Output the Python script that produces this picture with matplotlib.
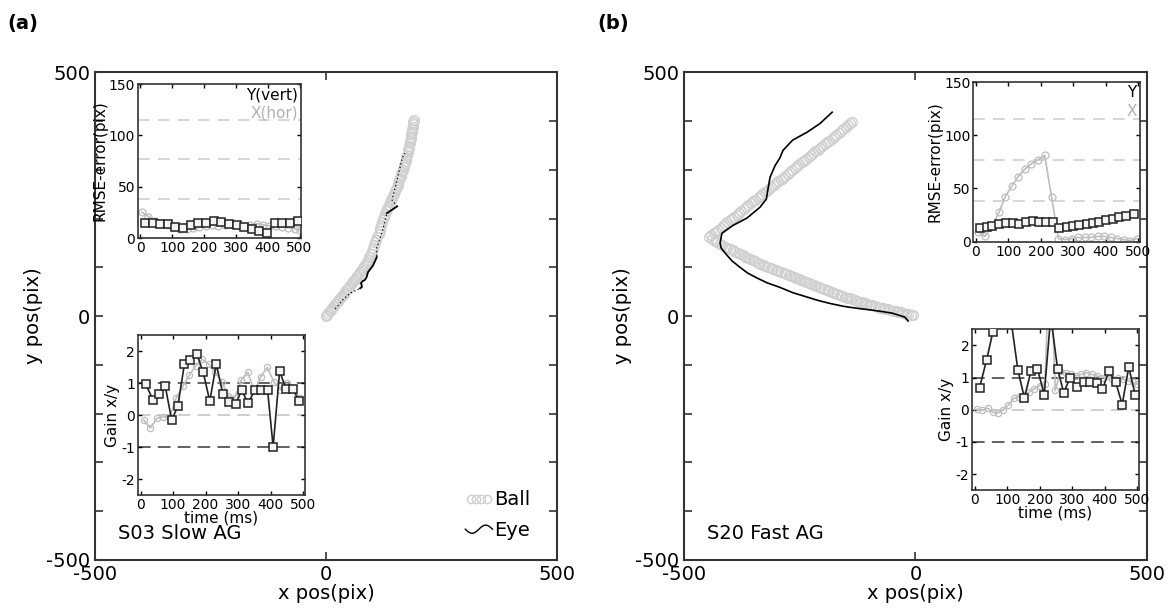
import numpy as np
import matplotlib
matplotlib.use("Agg")
import matplotlib.pyplot as plt
from matplotlib.lines import Line2D
from matplotlib.legend_handler import HandlerLine2D

plt.rcParams['font.family'] = ['DejaVu Sans']
plt.rcParams['axes.unicode_minus'] = False

# ---------------- data: panel (a) S03 Slow AG ----------------
ball_a_x = [0, 2.5, 5, 8, 11, 14, 17, 20, 23, 26, 29, 32, 35, 38, 41, 44, 47, 50, 53, 56,
            59, 62, 65, 68, 71, 74, 77, 80, 83, 86, 89, 91.5, 94, 96.5, 99, 101.5, 104, 106.5,
            109, 111.5, 114, 116, 118, 120, 122, 124, 126, 128.5, 131, 133, 135, 137, 139, 141,
            143, 145, 147, 149, 151, 153, 155, 157, 159, 160.5, 162, 163.5, 165, 166.5, 168,
            169.5, 171, 172.5, 174, 175.5, 177, 178, 179, 180, 181, 182, 183, 184, 185, 186,
            187, 187.5, 188, 189, 190]
ball_a_y = [0, 3, 6, 9.5, 13, 16.5, 20, 24, 28, 31.5, 35, 38.5, 42, 45.5, 49, 52.5, 56, 59.5, 63, 67,
            71, 75, 79, 83, 87, 91, 95, 99, 103, 107, 111, 116, 121, 127, 133, 139, 145, 151,
            157, 163, 169, 175, 181, 187, 193, 198.5, 204, 209.5, 215, 219.5, 224, 228.5, 233, 237.5,
            242, 246.5, 251, 255.5, 260, 264.5, 269, 273.5, 278, 282.5, 287, 291.5, 296, 300.5, 305,
            309.5, 314, 319, 324, 330, 336, 340.5, 345, 349.5, 354, 358.5, 363, 368, 373, 378,
            383, 388, 393, 398, 403]

eye_a_x = [20, 38, 52, 66, 74, 78, 76, 80, 84, 88, 91, 102, 110, 110, 121, 132, 154, 143, 154, 165, 171]
eye_a_y = [15, 35, 47, 53, 57, 60, 68, 72, 74, 80, 90, 104, 121, 141, 170, 211, 225, 238, 279, 324, 334]
eye_a_solid = [(4, 13), (15, 17)]

rmse_a_t = [14, 38, 62, 86, 110, 134, 158, 182, 206, 230, 254, 278, 302, 326, 350, 374, 398, 422, 446, 470, 494]
rmse_a_y = [15, 15, 14, 13.5, 11, 9.5, 13, 15, 15, 16.5, 16, 14, 12.5, 11, 9, 6.5, 5, 15, 14.5, 15, 16.5]
rmse_a_xt = [5, 25, 45, 65, 85, 105, 125, 145, 165, 185, 205, 225, 245, 265, 285, 305, 325,
             345, 365, 385, 405, 425, 445, 465, 485, 500]
rmse_a_x = [25, 21, 17, 15, 13, 11, 9, 9, 10, 11, 12, 13, 12, 13, 14, 13, 12,
            13, 14, 13, 12, 12, 11, 10, 9, 8]

gain_a_t = [16, 38, 56, 76, 96, 115, 135, 153, 173, 193, 213, 233, 253, 273, 293, 311,
            331, 353, 371, 391, 408, 428, 448, 468, 488]
gain_a_y = [0.97, 0.49, 0.65, 0.91, -0.16, 0.30, 1.60, 1.72, 1.92, 1.34, 0.44, 1.60, 0.68,
            0.41, 0.36, 0.78, 0.39, 0.80, 0.80, 0.78, -0.99, 1.38, 0.82, 0.82, 0.46]
gain_a_xt = [10, 30, 50, 70, 90, 110, 130, 150, 170, 190, 210, 230, 250, 270, 290, 310,
             330, 350, 370, 390, 410, 430, 450, 470, 490]
gain_a_x = [-0.15, -0.4, -0.1, -0.05, -0.05, 0.55, 0.9, 1.25, 1.55, 1.75, 1.6, 1.35, 1.05,
            0.6, 0.55, 1.1, 1.35, 0.75, 1.2, 1.5, 1.05, 0.8, 1.0, 0.85, 0.55]

# ---------------- data: panel (b) S20 Fast AG ----------------
# ball moves out to the left, then turns back up-right
ball_b_out_x = [-5, -10, -16, -21, -27, -32, -38, -43, -49, -54, -60, -65, -71, -76, -82, -87,
                -93, -98, -104, -109, -115, -120, -126, -131, -137, -142, -148, -153, -159, -164,
                -170, -175, -181, -186, -192, -197, -203, -208, -214, -219, -225, -230, -236, -241,
                -247, -252, -258, -263, -269, -274, -280, -285, -291, -296, -302, -307, -313, -318,
                -324, -329, -335, -340, -346, -351, -357, -362, -368, -373, -379, -384, -390, -395,
                -401, -406, -412, -417, -423, -428, -434, -440, -446]
ball_b_out_y = [2, 3, 4, 5, 6, 7.5, 9, 10, 11, 12.5, 14, 15, 16, 17.5, 19, 20.5,
                22, 23.5, 25, 26.5, 28, 29.5, 31, 33, 35, 36.5, 38, 40, 42, 44,
                46, 48, 50, 52, 54, 56, 58, 60, 62, 64, 66, 68, 70, 72,
                74, 76, 78, 80, 82, 84, 86, 88, 90, 92, 94, 96, 98, 100.5,
                103, 105, 107, 109.5, 112, 114.5, 117, 119.5, 122, 124.5, 127, 129.5, 132, 134.5,
                137, 139.5, 142, 145, 148, 151, 154, 158, 162]
ball_b_back_x = [-441, -436, -431, -426, -421, -416, -411, -406, -401, -396, -391, -386, -381,
                 -376, -371, -366, -361, -356, -351, -346, -341, -336, -331, -326, -321, -316,
                 -311, -306, -301, -296, -291, -286, -281, -276, -271, -266, -261, -256, -251,
                 -246, -241, -236, -231, -226, -221, -216, -211, -206, -201, -196, -191, -186,
                 -181, -176, -171, -166, -161, -156, -151, -146, -141, -137]
ball_b_back_y = [166, 170, 173, 177, 181, 185, 189, 193, 196, 200, 204, 208, 212,
                 215, 219, 223, 227, 231, 235, 238, 242, 246, 250, 254, 257, 261,
                 265, 269, 273, 277, 280, 284, 288, 292, 296, 299, 303, 307, 311,
                 315, 319, 322, 326, 330, 334, 338, 341, 345, 349, 353, 357, 360,
                 364, 368, 372, 376, 380, 383, 387, 391, 395, 398]

eye_b_x = [-16, -23, -50, -77, -100, -126, -155, -185, -210, -234, -265, -293, -320, -342,
           -362, -379, -396, -411, -420, -422, -418, -394, -364, -336, -322, -319, -314,
           -303, -293, -286, -265, -234, -206, -180]
eye_b_y = [-10, -2, 6, 10, 13, 16, 20, 26, 32, 39, 48, 59, 68, 78,
           88, 100, 113, 129, 140, 150, 170, 186, 201, 223, 240, 258, 285,
           309, 324, 340, 361, 377, 395, 418]

rmse_b_t = [12, 33, 51, 72, 92, 113, 133, 154, 175, 195, 216, 236, 257, 279, 298, 318,
            341, 359, 380, 400, 421, 441, 462, 487]
rmse_b_y = [12.5, 13.5, 15, 16.5, 17.5, 18, 17, 18.5, 19.5, 19, 19, 19, 12.5, 13.5, 14.5,
            15.5, 16.5, 17.5, 19, 20.5, 21.5, 23, 24.5, 26]
rmse_b_xt = [8, 28, 50, 72, 90, 110, 130, 150, 170, 192, 212, 233, 254, 275, 295, 315, 335,
             355, 375, 395, 415, 435, 455, 475, 495]
rmse_b_x = [9, 5, 15, 28, 42, 52, 61, 68, 73, 77, 81, 42, 3, 2, 3, 4, 4, 4, 5, 5, 4, 3, 2, 1, 3]

gain_b_t = [15, 37, 56, 75, 95, 113, 133, 153, 173, 193, 214, 234, 255, 274, 294, 315,
            335, 354, 375, 393, 413, 434, 454, 474, 494]
gain_b_y = [0.68, 1.56, 2.42, 3.5, 4.0, 2.7, 1.23, 0.37, 1.19, 1.28, 0.47, 2.9, 1.28, 0.53,
            1.0, 0.72, 0.86, 0.86, 0.82, 0.63, 1.19, 0.86, 0.16, 1.32, 0.47]
gain_b_xt = [8, 24, 40, 56, 72, 88, 104, 120, 136, 152, 168, 184, 200, 216, 224, 240, 248,
             264, 280, 296, 312, 328, 344, 360, 376, 392, 408, 424, 440, 456, 472, 488, 500]
gain_b_x = [0.02, -0.02, 0.05, -0.08, -0.1, 0.0, 0.15, 0.35, 0.4, 0.45, 0.55, 0.65, 0.75,
            0.8, 2.9, 2.9, 0.6, 1.2, 1.15, 1.1, 1.05, 1.1, 1.15, 1.1, 1.05, 1.0, 1.05, 0.95,
            1.0, 0.95, 0.9, 0.85, 0.8]

rmse_lines = [38.5, 77, 115.5]

BALL_C = '#cfcfcf'
DARK = '#222222'
LIGHT = '#bdbdbd'
SPINE = '#333333'


class WaveHandler(HandlerLine2D):
    def create_artists(self, legend, orig_handle, xdescent, ydescent, width, height, fontsize, trans):
        s = np.linspace(0, 2 * np.pi, 40)
        xs = s / (2 * np.pi) * width - xdescent
        ys = height / 2 - ydescent - 0.3 * height * np.sin(s)
        ln = Line2D(xs, ys, color='black', lw=1.0)
        ln.set_transform(trans)
        return [ln]


def style_main(ax):
    ax.set_xlim(-500, 500)
    ax.set_ylim(-500, 500)
    ax.set_xticks([-500, 0, 500])
    ax.set_xticklabels(['-500', '0', '500'])
    ax.set_yticks(range(-500, 501, 100))
    ax.set_yticklabels(['-500', '', '', '', '', '0', '', '', '', '', '500'])
    ax.tick_params(direction='in', top=True, right=True, length=6, width=1.2,
                   labelsize=14, colors=SPINE, labelcolor='black')
    for s in ax.spines.values():
        s.set_linewidth(1.5)
        s.set_color(SPINE)
    ax.set_xlabel('x pos(pix)', fontsize=14, labelpad=0)
    ax.set_ylabel('y pos(pix)', fontsize=14, labelpad=2)


def style_inset(ax):
    ax.tick_params(direction='in', top=True, right=True, length=3, width=1,
                   labelsize=10, pad=2)
    for s in ax.spines.values():
        s.set_linewidth(1.2)
        s.set_color(SPINE)
    ax.set_xlim(-8, 505)
    ax.set_xticks([0, 100, 200, 300, 400, 500])


def rmse_inset(fig, rect, t, y, xt, x, ylab, xlab):
    ax = fig.add_axes(rect)
    for v in rmse_lines:
        ax.axhline(v, color='#d0d0d0', lw=1.2, ls=(0, (7, 5)), zorder=1)
    ax.plot(xt, x, color=LIGHT, lw=1.2, marker='o', ms=5, mfc='none', mec=LIGHT, mew=0.9, zorder=2)
    ax.plot(t, y, color=DARK, lw=1.2, marker='s', ms=5.5, mfc='#f4f4f4', mec=DARK, mew=1.1, zorder=3)
    ax.set_ylim(0, 150)
    ax.set_yticks([0, 50, 100, 150])
    style_inset(ax)
    ax.set_ylabel('RMSE-error(pix)', fontsize=11, labelpad=1)
    ax.text(0.98, 0.98, ylab, transform=ax.transAxes, ha='right', va='top', fontsize=11, color='black')
    ax.text(0.98, 0.86, xlab, transform=ax.transAxes, ha='right', va='top', fontsize=11, color='#b0b0b0')
    return ax


def gain_inset(fig, rect, t, y, xt, x):
    ax = fig.add_axes(rect)
    ax.axhline(1, color='#555555', lw=1.3, ls=(0, (7, 4)), zorder=1)
    ax.axhline(-1, color='#555555', lw=1.3, ls=(0, (7, 4)), zorder=1)
    ax.axhline(0, color='#cccccc', lw=1.3, ls=(0, (7, 4)), zorder=1)
    ax.plot(xt, x, color=LIGHT, lw=1.2, marker='o', ms=4.5, mfc='none', mec=LIGHT, mew=0.9, zorder=2)
    ax.plot(t, y, color=DARK, lw=1.2, marker='s', ms=5.5, mfc='#f4f4f4', mec=DARK, mew=1.1, zorder=3)
    ax.set_ylim(-2.5, 2.5)
    ax.set_yticks([-2, -1, 0, 1, 2])
    style_inset(ax)
    ax.set_ylabel('Gain x/y', fontsize=11, labelpad=1)
    ax.set_xlabel('time (ms)', fontsize=11, labelpad=-1)
    return ax


fig = plt.figure(figsize=(11.74, 6.12), dpi=100)

# ---- panel (a)
ax_a = fig.add_axes([0.0809, 0.085, 0.3935, 0.797])
ax_a.plot(ball_a_x, ball_a_y, ls='none', marker='o', ms=7, mfc='none', mec=BALL_C, mew=1.0)
ax_a.plot(eye_a_x, eye_a_y, color='black', lw=0.9, ls=(0, (1, 2)))
for i0, i1 in eye_a_solid:
    ax_a.plot(eye_a_x[i0:i1], eye_a_y[i0:i1], color='black', lw=1.3)
style_main(ax_a)
ax_a.text(0.05, 0.055, 'S03 Slow AG', transform=ax_a.transAxes, fontsize=14, va='center')
h_ball = Line2D([], [], ls='none', marker='o', ms=6, mfc='none', mec=BALL_C, mew=1.0)
h_eye = Line2D([], [], color='black')
ax_a.legend([h_ball, h_eye], ['Ball', 'Eye'], loc='lower right', bbox_to_anchor=(0.96, 0.025),
            frameon=False, fontsize=14, handlelength=1.4, handletextpad=0.1, labelspacing=0.6,
            borderaxespad=0.0,
            handler_map={h_ball: HandlerLine2D(numpoints=4), h_eye: WaveHandler()})

rmse_inset(fig, [0.1175, 0.611, 0.139, 0.2516], rmse_a_t, rmse_a_y, rmse_a_xt, rmse_a_x,
           'Y(vert)', 'X(hor)')
gain_inset(fig, [0.1175, 0.191, 0.142, 0.261], gain_a_t, gain_a_y, gain_a_xt, gain_a_x)

# ---- panel (b)
ax_b = fig.add_axes([0.5826, 0.085, 0.3944, 0.797])
ax_b.plot(ball_b_out_x + ball_b_back_x, ball_b_out_y + ball_b_back_y, ls='none', marker='o',
          ms=7, mfc='none', mec=BALL_C, mew=1.0)
ax_b.plot(eye_b_x, eye_b_y, color='black', lw=1.2)
style_main(ax_b)
ax_b.text(0.05, 0.055, 'S20 Fast AG', transform=ax_b.transAxes, fontsize=14, va='center')

rmse_inset(fig, [0.829, 0.605, 0.142, 0.261], rmse_b_t, rmse_b_y, rmse_b_xt, rmse_b_x, 'Y', 'X')
gain_inset(fig, [0.828, 0.199, 0.142, 0.263], gain_b_t, gain_b_y, gain_b_xt, gain_b_x)

fig.text(0.006, 0.962, '(a)', fontsize=14, fontweight='bold', va='center')
fig.text(0.509, 0.962, '(b)', fontsize=14, fontweight='bold', va='center')

fig.savefig('out.png', dpi=100)
